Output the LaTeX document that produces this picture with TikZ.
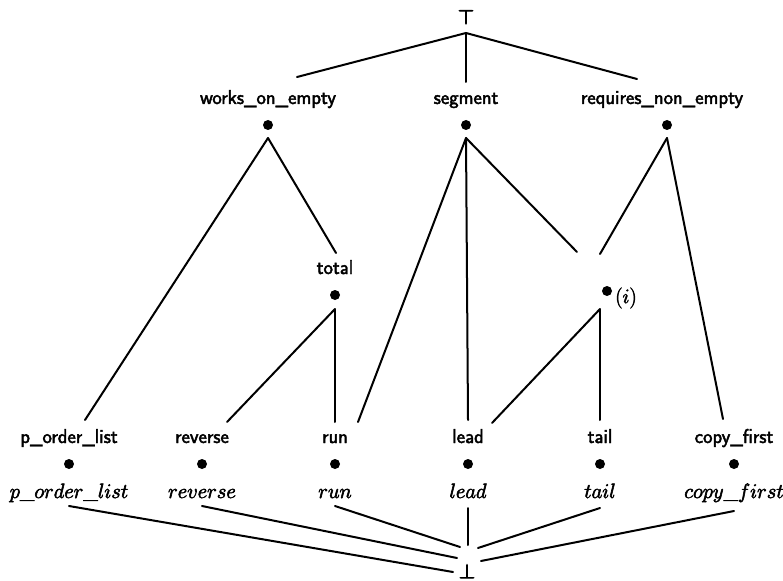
\documentclass[tikz,border=0pt]{standalone}
\begin{document}
\begin{tikzpicture}[x=1pt,y=-1pt,
  lnk/.style={line width=2pt,line cap=round},
  heavy/.style={execute at begin node={\special{pdf:literal direct 2 Tr #1 w}},
                execute at end node={\special{pdf:literal direct 0 Tr}}},
  attr/.style={anchor=base,inner sep=0pt,heavy=0.45,font=\sffamily\fontsize{20}{24}\selectfont},
  obj/.style={anchor=base,inner sep=0pt,heavy=0.6,font=\fontsize{20.74}{25}\selectfont},
  pt/.style={circle,fill=black,inner sep=0pt,minimum size=10pt},
  bnd/.style={inner sep=0pt,heavy=0.7,font=\fontsize{20.74}{25}\selectfont}]
\useasboundingbox (0,0) rectangle (783,580);
% top and bottom
\node[bnd] (top) at (466,17) {$\top$};
\node[bnd] (bot) at (467,571) {$\bot$};
% upper concepts
\node[attr] (woe) at (268,104) {works\_on\_empty};
\node[attr] (seg) at (466,104) {segment};
\node[attr] (rne) at (662,104) {requires\_non\_empty};
\node[pt] (dwoe) at (268,125) {};
\node[pt] (dseg) at (466,125) {};
\node[pt] (drne) at (667,125) {};
% middle concepts
\node[attr] (total) at (335,274) {total};
\node[pt] (dtotal) at (335,295) {};
\node[pt] (di) at (607,291) {};
\node[inner sep=0pt,heavy=0.5,font=\fontsize{20.74}{25}\selectfont] (ilab) at (626,298) {$(i)$};
% lower concepts
\foreach \n/\x/\t in {pol/69/p\_order\_list, rev/202/reverse, run/335/run, lead/468/lead, tail/600/tail, cf/734/copy\_first}{
  \node[attr] (\n) at (\x,443) {\t};
  \node[pt] (d\n) at (\x,464) {};
  \node[obj] (o\n) at (\x,498) {$\t$};
}
% connectors from top
\draw[lnk] ([yshift=-16pt]top.center) -- ([shift={(29pt,27pt)}]woe.base);
\draw[lnk] ([yshift=-16pt]top.center) -- ([shift={(0pt,22pt)}]seg.base);
\draw[lnk] ([yshift=-16pt]top.center) -- ([shift={(-25pt,25pt)}]rne.base);
% works_on_empty
\draw[lnk] ([yshift=-13pt]dwoe.center) -- ([shift={(16pt,23pt)}]pol.base);
\draw[lnk] ([yshift=-13pt]dwoe.center) -- ([shift={(1pt,21pt)}]total.base);
% segment
\draw[lnk] ([yshift=-13pt]dseg.center) -- ([shift={(23pt,21pt)}]run.base);
\draw[lnk] ([yshift=-13pt]dseg.center) -- ([shift={(0pt,23pt)}]lead.base);
\draw[lnk] ([yshift=-13pt]dseg.center) -- ([shift={(-30pt,39pt)}]di.center);
% requires_non_empty
\draw[lnk] ([yshift=-13pt]drne.center) -- ([shift={(-7pt,37pt)}]di.center);
\draw[lnk] ([yshift=-13pt]drne.center) -- ([shift={(-11pt,24pt)}]cf.base);
% total
\draw[lnk] ([yshift=-14pt]dtotal.center) -- ([shift={(25pt,21pt)}]rev.base);
\draw[lnk] ([yshift=-14pt]dtotal.center) -- ([shift={(0pt,21pt)}]run.base);
% (i)
\draw[lnk] ([shift={(-7pt,-18pt)}]di.center) -- ([shift={(24pt,20pt)}]lead.base);
\draw[lnk] ([shift={(-7pt,-18pt)}]di.center) -- ([shift={(0pt,23pt)}]tail.base);
% to bottom
\draw[lnk] ([yshift=-8pt]opol.base) -- ([shift={(-14pt,-1pt)}]bot.center);
\draw[lnk] ([yshift=-8pt]orev.base) -- ([shift={(-10pt,13pt)}]bot.center);
\draw[lnk] ([yshift=-8pt]orun.base) -- ([shift={(-7pt,24pt)}]bot.center);
\draw[lnk] ([yshift=-10pt]olead.base) -- ([shift={(1pt,26pt)}]bot.center);
\draw[lnk] ([yshift=-10pt]otail.base) -- ([shift={(11pt,23pt)}]bot.center);
\draw[lnk] ([yshift=-13pt]ocf.base) -- ([shift={(14pt,10pt)}]bot.center);
\end{tikzpicture}
\end{document}
